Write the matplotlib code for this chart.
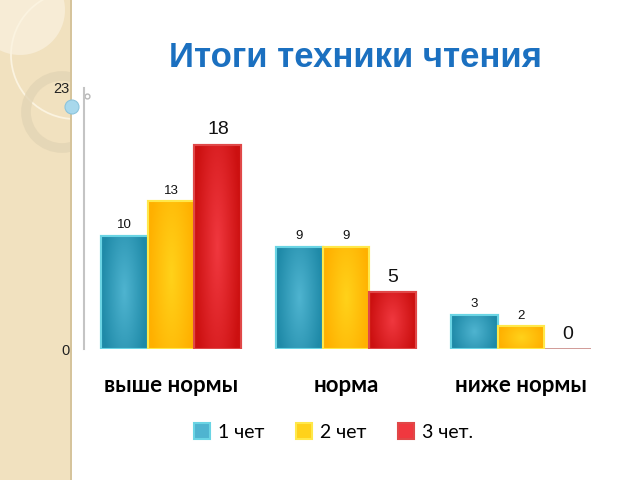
import numpy as np
import matplotlib
matplotlib.use("Agg")
import matplotlib.pyplot as plt
from matplotlib.patches import Patch, Rectangle, Circle
from matplotlib.colors import to_rgb

# данные
categories = ["выше нормы", "норма", "ниже нормы"]
series_names = ["1 чет", "2 чет", "3 чет."]
q1 = [10, 9, 3]
q2 = [13, 9, 2]
q3 = [18, 5, 0]
values = [q1, q2, q3]

# цвета: центр, край, обводка
centre_cols = ["#4fb4d0", "#ffd21a", "#f0383f"]
edge_cols = ["#1f8aa8", "#ffb000", "#cc1010"]
line_cols = ["#6ad4e4", "#ffe84a", "#e04848"]

fig = plt.figure(figsize=(6.4, 4.8), dpi=100)

# левая декоративная полоса слайда
strip = Rectangle((0, 0), 70 / 640, 1, transform=fig.transFigure,
                  facecolor="#f1e1bf", edgecolor="none", zorder=0)
fig.patches.append(strip)
fig.patches.append(Rectangle((70 / 640, 0), 1.5 / 640, 1, transform=fig.transFigure,
                             facecolor="#d6c49c", edgecolor="none", zorder=0))
deco = [
    Circle((20, 470), 45, transform=None, facecolor="#f7ecd6", edgecolor="none", zorder=0.5),
    Circle((75, 425), 64, transform=None, facecolor="none",
           edgecolor="#fbf3e0", linewidth=1.3, zorder=1),
    Circle((62, 368), 36, transform=None, facecolor="none",
           edgecolor="#e3d5b5", linewidth=7, alpha=0.8, zorder=1),
]
for c in deco:
    c.set_clip_path(strip)
    fig.patches.append(c)
fig.patches.append(Circle((72, 373), 7, transform=None, facecolor="#a8d8ec",
                          edgecolor="#8cc4dc", linewidth=0.8, zorder=3))

ax = fig.add_axes([0.1305, 0.2729, 0.8203, 0.5438])
ax.set_zorder(5)
ax.set_xlim(-0.5, 2.5)
ax.set_ylim(0, 23)

w = 0.268
x = np.arange(len(categories))

yy, xx = np.mgrid[-1:1:60j, -1:1:60j]
rad = np.clip(np.sqrt(xx ** 2 * 1.0 + yy ** 2 * 0.35), 0, 1)

for i, vals in enumerate(values):
    pos = x + (i - 1) * w
    bars = ax.bar(pos, vals, width=w, color=centre_cols[i], edgecolor=line_cols[i],
                  linewidth=1.5, zorder=2)
    c0 = np.array(to_rgb(centre_cols[i]))
    c1 = np.array(to_rgb(edge_cols[i]))
    img = c0[None, None, :] * (1 - rad[..., None]) + c1[None, None, :] * rad[..., None]
    for b, v in zip(bars, vals):
        if v > 0:
            im = ax.imshow(img, extent=[b.get_x(), b.get_x() + w, 0, v],
                           aspect="auto", zorder=2.5, interpolation="bilinear")
            im.set_clip_path(b)
            ax.add_patch(Rectangle((b.get_x(), 0), w, v, facecolor="none",
                                   edgecolor=line_cols[i], linewidth=1.5, zorder=3))
        else:
            b.set_edgecolor("#c98a86")
            b.set_linewidth(1.2)
        big = i == 2
        ax.text(b.get_x() + w / 2, v + (1.3 if big else 0.95), str(v),
                ha="center", va="center",
                fontsize=14 if big else 9.5, family="Liberation Sans", color="#111111",
                zorder=4)

# ось y
for s in ["top", "right", "bottom"]:
    ax.spines[s].set_visible(False)
ax.spines["left"].set_color("#c4c4c4")
ax.spines["left"].set_linewidth(1.5)
ax.set_yticks([0, 23])
ax.tick_params(axis="y", length=0, pad=10, labelsize=10.5, labelcolor="#222222")
for t in ax.get_yticklabels():
    t.set_family("Liberation Sans")
ax.set_xticks(x)
ax.set_xticklabels(categories, fontsize=16, fontweight="bold", family="Lato")
ax.tick_params(axis="x", length=0, pad=19)
ax.plot([-0.48], [22.3], marker="o", ms=3.5, mfc="white", mec="#b8b8b8", clip_on=False)
ax.set_facecolor("none")

fig.text(0.555, 0.881, "Итоги техники чтения", ha="center", va="center",
         fontsize=25, fontweight="bold", family="Liberation Sans", color="#1b70c0")

handles = [Patch(facecolor=centre_cols[i], edgecolor=line_cols[i], linewidth=1.5)
           for i in range(3)]
fig.legend(handles, series_names, loc="center", bbox_to_anchor=(0.521, 0.1), ncol=3,
           frameon=False, handlelength=0.85, handleheight=0.85, handletextpad=0.4,
           columnspacing=1.6, prop={"family": "Lato", "size": 14})

fig.savefig("out.png", dpi=100)
